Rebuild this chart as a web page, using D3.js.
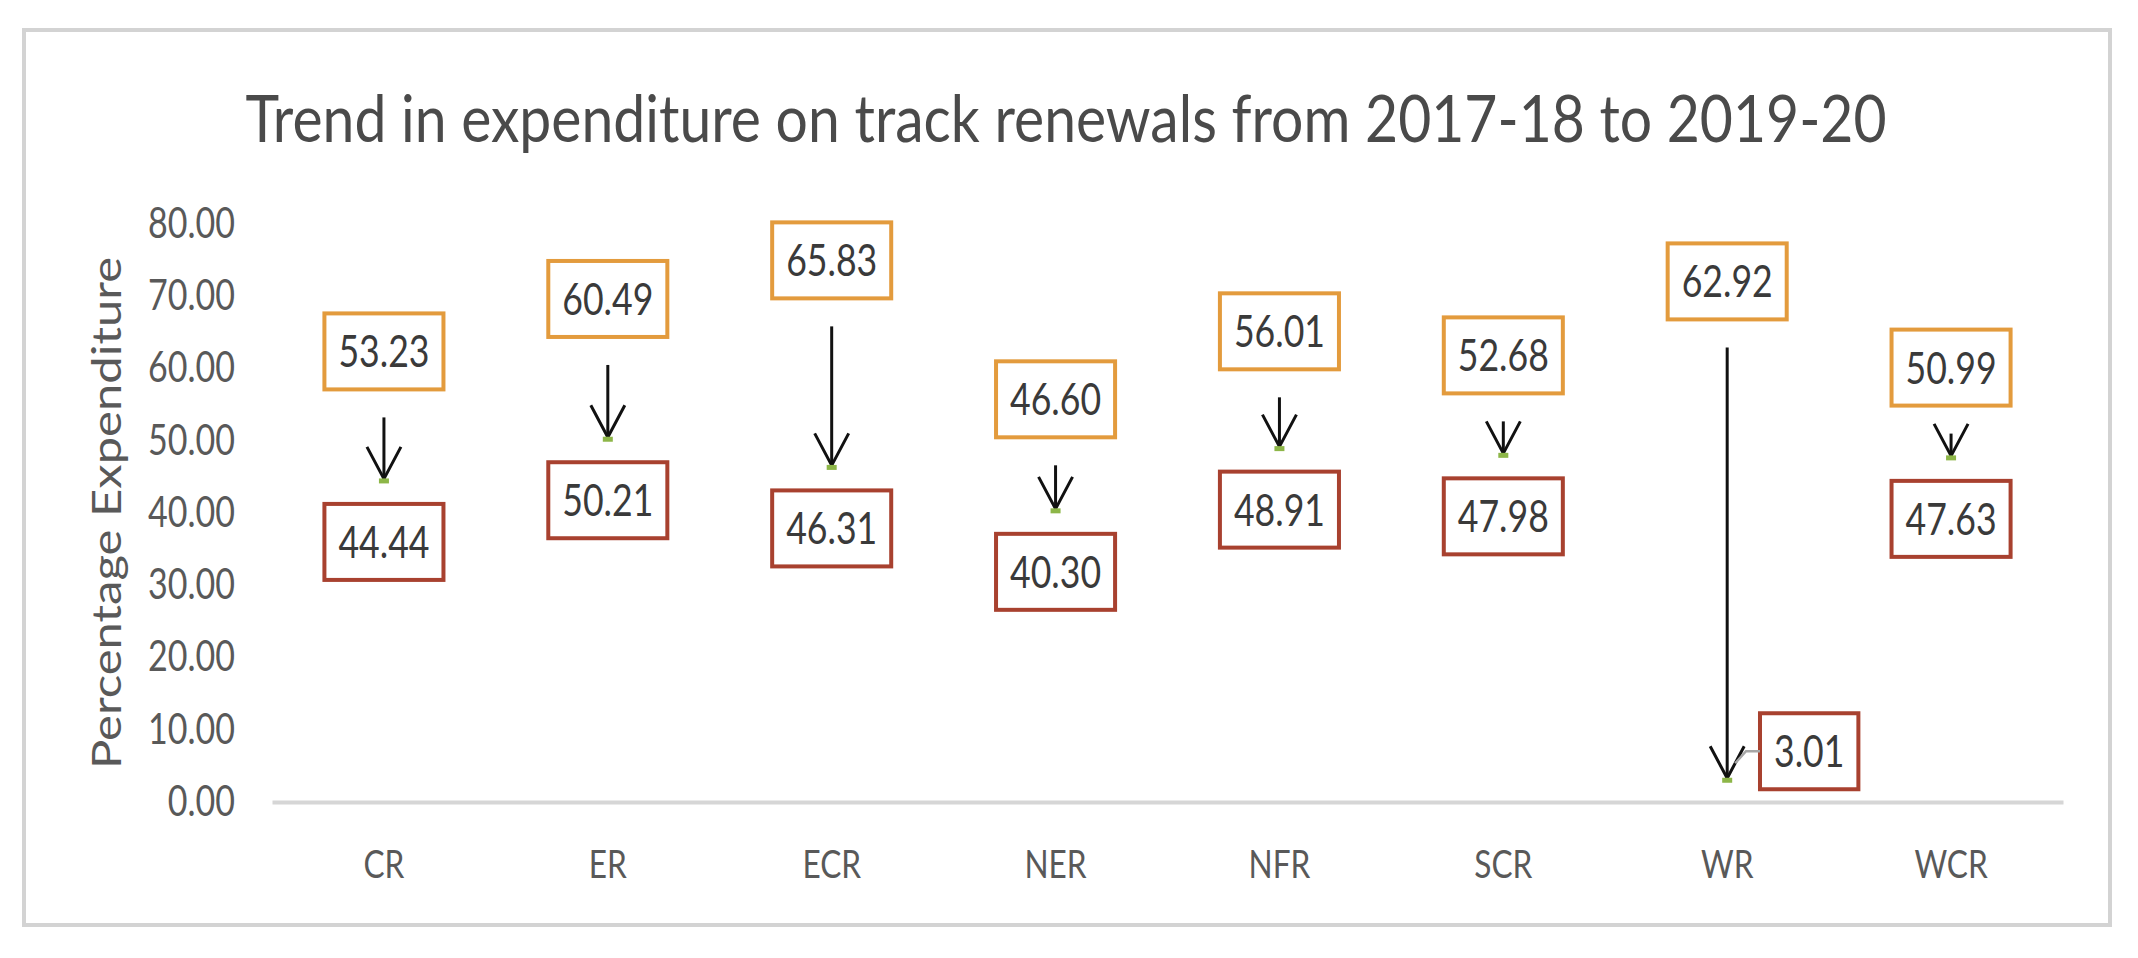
<!DOCTYPE html>
<html><head><meta charset="utf-8">
<script src="https://cdn.jsdelivr.net/npm/d3@7"></script>
<style>html,body{margin:0;padding:0;background:#fff;} svg{display:block}</style>
</head><body>
<svg id="chart" width="2138" height="958"></svg>
<script>
const categories = ["CR","ER","ECR","NER","NFR","SCR","WR","WCR"];
const values201718 = [53.23,60.49,65.83,46.60,56.01,52.68,62.92,50.99];
const values201920 = [44.44,50.21,46.31,40.30,48.91,47.98,3.01,47.63];
const yTicks = [0,10,20,30,40,50,60,70,80];
const placement201920 = ["below","below","below","below","below","below","right","below"];
const titleText = "Trend in expenditure on track renewals from 2017-18 to 2019-20";
const yAxisTitle = "Percentage Expenditure";

const W = 2138, H = 958;
const FONT = "Lato, 'Open Sans', sans-serif";
const CX = 0.81; // horizontal condensing of the reference text
const svg = d3.select("#chart");
svg.append("rect").attr("width", W).attr("height", H).attr("fill", "#fff");
svg.append("rect").attr("x", 24).attr("y", 30).attr("width", 2086).attr("height", 895)
  .attr("fill", "none").attr("stroke", "#d3d3d3").attr("stroke-width", 4);

const x = d3.scaleBand().domain(categories).range([272, 2063]).padding(0);
const cx = c => x(c) + x.bandwidth() / 2;
const y = d3.scaleLinear().domain([0, 80]).range([802, 224]);

// title
svg.append("g").attr("transform", `translate(1066,142) scale(0.865,1)`)
  .append("text").attr("text-anchor", "middle").attr("font-family", FONT)
  .attr("font-size", 66).attr("fill", "#4a4a4a").text(titleText);

// y axis title
svg.append("g").attr("transform", `translate(121,513) rotate(-90) scale(1,${CX})`)
  .append("text").attr("text-anchor", "middle").attr("font-family", FONT)
  .attr("font-size", 49).attr("fill", "#595959").text(yAxisTitle);

// y axis
const yAxis = svg.append("g").attr("transform", "translate(244,0)")
  .call(d3.axisLeft(y).tickValues(yTicks).tickFormat(d3.format(".2f")).tickSize(0).tickPadding(9));
yAxis.select(".domain").remove();
yAxis.selectAll("text").attr("font-family", FONT).attr("font-size", 42).attr("fill", "#595959")
  .attr("x", -9 / CX).attr("transform", `scale(${CX},1)`);

// x axis
const xAxis = svg.append("g").attr("transform", "translate(0,802)")
  .call(d3.axisBottom(x).tickSize(0).tickSizeOuter(0));
xAxis.select(".domain").attr("stroke", "#d6d6d6").attr("stroke-width", 4);
xAxis.selectAll("text").attr("font-family", FONT).attr("font-size", 39).attr("fill", "#595959")
  .attr("y", 0).attr("dy", 0).attr("transform", `translate(0,76) scale(${CX},1)`);

// arrows
const rows = categories.map((c, i) => ({c, v1: values201718[i], v2: values201920[i], place: placement201920[i]}));
const arrows = svg.append("g");
rows.forEach(d => {
  const px = cx(d.c), y1 = y(d.v1), y2 = y(d.v2);
  arrows.append("line").attr("x1", px).attr("x2", px).attr("y1", y1).attr("y2", y2 - 2)
    .attr("stroke", "#111").attr("stroke-width", 3);
  arrows.append("path").attr("d", `M${px - 17},${y2 - 34} L${px},${y2 - 2} L${px + 17},${y2 - 34}`)
    .attr("fill", "none").attr("stroke", "#111").attr("stroke-width", 3).attr("stroke-linejoin", "miter");
  arrows.append("rect").attr("x", px - 5).attr("y", y2 - 2.5).attr("width", 10).attr("height", 5)
    .attr("fill", "#8db648");
});

// labels
const labels = svg.append("g");
function box(px, py, str, stroke) {
  const g = labels.append("g");
  const r = g.append("rect");
  const t = g.append("g").attr("transform", `translate(${px},${py + 16}) scale(${CX},1)`)
    .append("text").attr("text-anchor", "middle").attr("font-family", FONT)
    .attr("font-size", 44).attr("fill", "#3a3a3a").text(str);
  const tw = t.node().getComputedTextLength() * CX;
  const bw = tw + 28, bh = 76;
  r.attr("x", px - bw / 2).attr("y", py - bh / 2).attr("width", bw).attr("height", bh)
    .attr("fill", "#fff").attr("stroke", stroke).attr("stroke-width", 4);
  return {left: px - bw / 2, cy: py};
}
const fmt = d3.format(".2f");
rows.forEach(d => {
  const px = cx(d.c), y1 = y(d.v1), y2 = y(d.v2);
  box(px, y1 - 66, fmt(d.v1), "#e39b3d");
  if (d.place === "right") {
    const b = box(px + 82, y2 - 29, fmt(d.v2), "#a8412f");
    labels.append("polyline")
      .attr("points", `${b.left},${b.cy} ${b.left - 14},${b.cy} ${px + 8},${y2 - 17}`)
      .attr("fill", "none").attr("stroke", "#a6a6a6").attr("stroke-width", 2.5);
  } else {
    box(px, y2 + 61, fmt(d.v2), "#a8412f");
  }
});
</script>
</body></html>
